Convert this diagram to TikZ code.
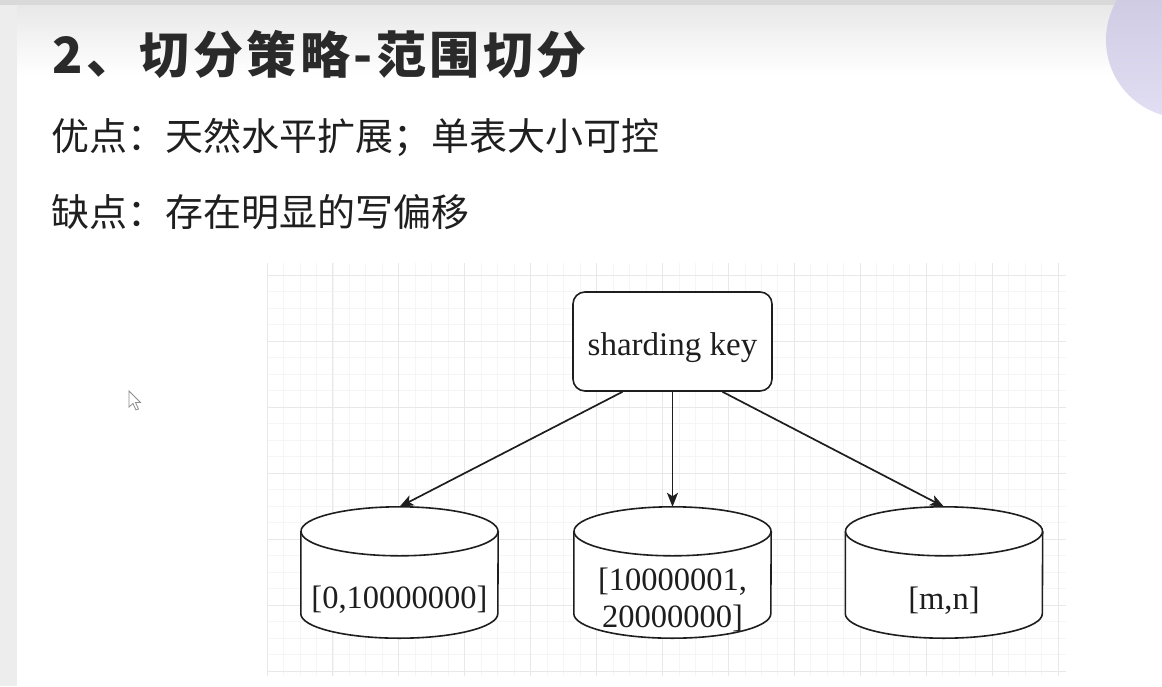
\documentclass[tikz,border=0pt]{standalone}
\usepackage{fontspec}
\setmainfont{Liberation Serif}
\newfontfamily\cjk{Noto Sans CJK SC}
\newfontfamily\cjktitle[LetterSpace=7]{Noto Sans CJK SC}
\usetikzlibrary{arrows.meta,calc}
\definecolor{ink}{HTML}{1E1E1E}
\definecolor{txt}{HTML}{1E1E1E}
\definecolor{titlec}{HTML}{2A2A2A}
\definecolor{bodyc}{HTML}{1F1F1F}
\definecolor{lavtop}{RGB}{200,197,222}
\definecolor{lavbot}{RGB}{226,223,244}
\begin{document}
\begin{tikzpicture}[x=1pt,y=-1pt,
  every node/.style={inner sep=0pt},
  gridminor/.style={draw=black!4, line width=0.8pt},
  gridmajor/.style={draw=black!9, line width=0.9pt},
  keybox/.style={draw=ink, line width=1.6pt, rounded corners=12pt, fill=white,
    minimum width=199pt, minimum height=99pt, font=\fontsize{33}{38}\selectfont, text=txt},
  cylarea/.style={minimum width=197pt, minimum height=131pt},
  cyltext/.style={font=\fontsize{32.5}{37}\selectfont, text=txt, align=center},
  cylline/.style={draw=ink, line width=1.6pt, fill=white},
  arr/.style={draw=ink, line width=1.7pt, -{Stealth[length=14pt,width=11pt,inset=3.5pt]}},
  titlestyle/.style={anchor=west, text=titlec, font=\cjktitle\bfseries\fontsize{50}{60}\selectfont},
  bodystyle/.style={anchor=west, text=bodyc, font=\cjk\fontsize{38}{46}\selectfont},
]
\useasboundingbox (0,0) rectangle (1162,686);
\clip (0,0) rectangle (1162,686);
% slide background
\fill[white] (0,0) rectangle (1162,686);
\fill[black!7] (0,0) rectangle (17,686);
\shade[top color=black!9, bottom color=white] (17,5) rectangle (1162,75);
\fill[black!15] (0,0) rectangle (1162,5);
\shade[top color=lavtop, bottom color=lavbot] (1184,40) circle[radius=78pt];

% grid
\foreach \i in {0,...,48} \draw[gridminor] ({267+16.48*\i},263) -- ({267+16.48*\i},676);
\foreach \k in {0,...,24} \draw[gridminor] (267,{275+16.5*\k}) -- (1066,{275+16.5*\k});
\foreach \i in {0,4,...,48} \draw[gridmajor] ({267+16.48*\i},263) -- ({267+16.48*\i},676);
\foreach \k in {0,4,...,24} \draw[gridmajor] (267,{275+16.5*\k}) -- (1066,{275+16.5*\k});

% texts
\node[titlestyle] (title) at (52,54) {2、切分策略-范围切分};
\node[bodystyle] (pro) at (51,137) {优点：天然水平扩展；单表大小可控};
\node[bodystyle] (con) at (51,212) {缺点：存在明显的写偏移};

% cursor
\draw[draw=black!45, fill=white, line width=0.8pt] (129,391) -- (129,407) -- (133,403.5) -- (136,410) -- (138.5,409) -- (135.5,402.5) -- (140.5,402.5) -- cycle;

% key box
\node[keybox, text height=34pt, text depth=7pt] (key) at (672.5,341.5) {sharding key};

% cylinders
\node[cylarea] (c1) at (399.5,572.5) {};
\node[cylarea] (c2) at (672.5,572.5) {};
\node[cylarea] (c3) at (944,572.5) {};
\foreach \nm in {c1,c2,c3} {
  \draw[cylline] ($(\nm.north west)+(0,24.5)$) -- ($(\nm.south west)+(0,-24.5)$)
     arc[start angle=180,end angle=360,x radius=98.5pt,y radius=24.5pt]
     -- ($(\nm.north east)+(0,24.5)$);
  \draw[cylline] ($(\nm.north)+(0,24.5)$) ellipse[x radius=98.5pt, y radius=24.5pt];
}
\node[cyltext] (t1) at (399.5,600) {[0,10000000]};
\node[cyltext] (t2) at (672.5,600) {[10000001,\\20000000]};
\node[cyltext] (t3) at (944,601) {[m,n]};

% arrows
\draw[arr] ([xshift=-50pt]key.south) -- (c1.north);
\draw[arr] (key.south) -- (c2.north);
\draw[arr] ([xshift=50pt]key.south) -- (c3.north);
\end{tikzpicture}
\end{document}
